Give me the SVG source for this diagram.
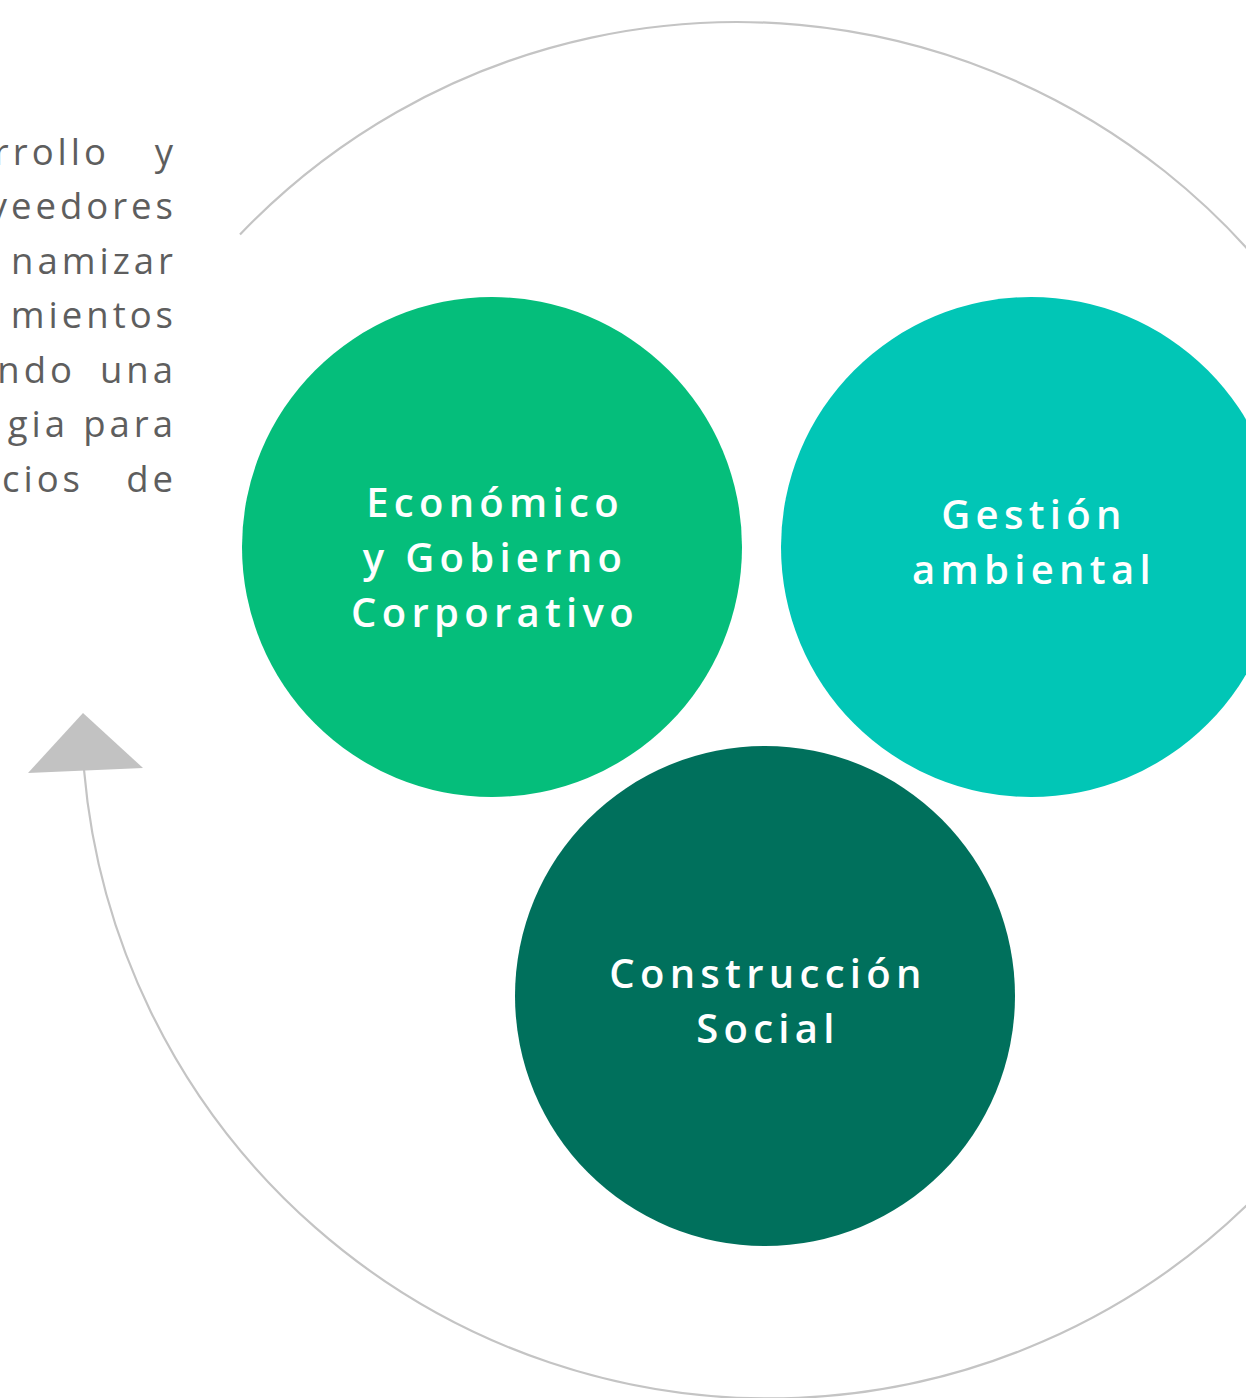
<svg xmlns="http://www.w3.org/2000/svg" width="1246" height="1398" viewBox="0 0 1246 1398">
<style>
.arc{fill:none;stroke:#C4C4C4;stroke-width:2.2}
.lbl{font-family:"Open Sans","Noto Sans","DejaVu Sans",sans-serif;font-weight:650;font-size:40px;letter-spacing:5.3px;fill:#FFFFFF;text-anchor:middle}
.body{font-family:"Open Sans","Noto Sans","DejaVu Sans",sans-serif;font-weight:400;font-size:36.5px;letter-spacing:4px;fill:#5E5E5E;text-anchor:end}
</style>
<rect width="1246" height="1398" fill="#FFFFFF"/>
<g id="paragraph">
<text class="body" x="110" y="165">rrollo</text>
<text class="body" x="177" y="165">y</text>
<text class="body" x="177" y="219">veedores</text>
<text class="body" x="177" y="274">namizar</text>
<text class="body" x="177" y="328">mientos</text>
<text class="body" x="76" y="383">ndo</text>
<text class="body" x="177" y="383">una</text>
<text class="body" x="69" y="437">gia</text>
<text class="body" x="177" y="437">para</text>
<text class="body" x="84" y="492">cios</text>
<text class="body" x="177" y="492">de</text>
</g>
<g id="connectors">
<path class="arc" d="M240,234.5 A687.5,687.5 0 0 1 1424.5,709.5"/>
<path class="arc" d="M1456.5,711 A687.5,687.5 0 0 1 84.04,770"/>
<polygon points="83,713 28,773 143,768" fill="#C2C2C2"/>
</g>
<g id="node-economico">
<circle cx="492" cy="547" r="250" fill="#05BE7B"/>
<text class="lbl" x="495" y="517">Económico</text>
<text class="lbl" x="495" y="572">y Gobierno</text>
<text class="lbl" x="495" y="627">Corporativo</text>
</g>
<g id="node-gestion">
<circle cx="1031" cy="547" r="250" fill="#01C6B6"/>
<text class="lbl" x="1034" y="529">Gestión</text>
<text class="lbl" x="1034" y="584">ambiental</text>
</g>
<g id="node-social">
<circle cx="765" cy="996" r="250" fill="#00705C"/>
<text class="lbl" x="768" y="988">Construcción</text>
<text class="lbl" x="768" y="1043">Social</text>
</g>
</svg>
